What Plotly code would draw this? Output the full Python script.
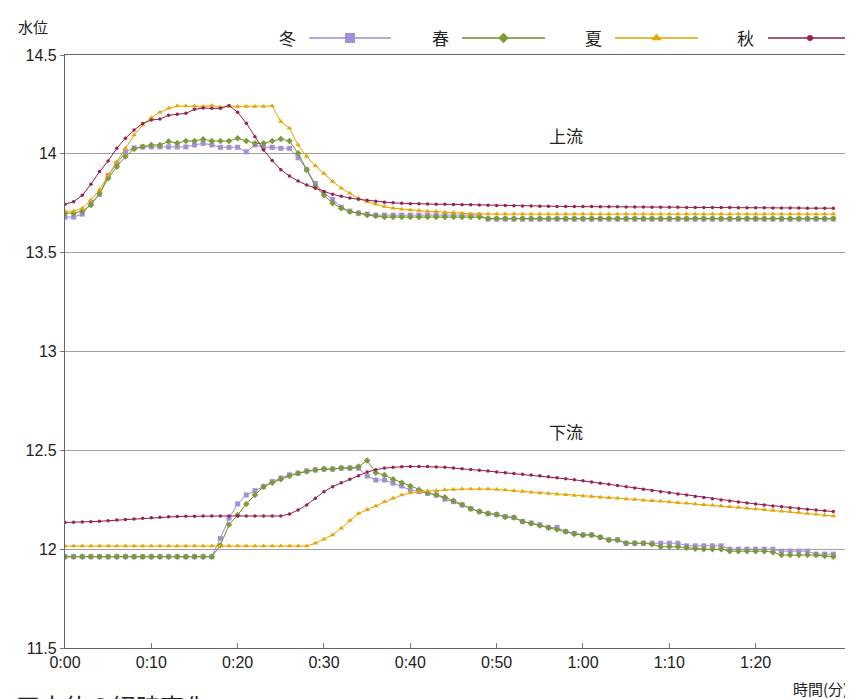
import plotly.graph_objects as go

# ---------------- data (minutes, water level) ----------------
minutes = list(range(90))
x_ticks = [0, 10, 20, 30, 40, 50, 60, 70, 80]
x_tick_labels = ["0:00", "0:10", "0:20", "0:30", "0:40", "0:50", "1:00", "1:10", "1:20"]
y_ticks = [11.5, 12, 12.5, 13, 13.5, 14, 14.5]
y_tick_labels = ["11.5", "12", "12.5", "13", "13.5", "14", "14.5"]
season_names = ["冬", "春", "夏", "秋"]

winter_up = [13.68, 13.68, 13.695, 13.75, 13.795, 13.89, 13.95, 14.01, 14.03, 14.035,
             14.035, 14.035, 14.035, 14.035, 14.035, 14.045, 14.053, 14.045, 14.033, 14.033,
             14.033, 14.01, 14.045, 14.033, 14.033, 14.028, 14.028, 13.98, 13.92, 13.85,
             13.80, 13.77, 13.73, 13.71, 13.70, 13.695, 13.69, 13.69, 13.69, 13.69,
             13.69, 13.69, 13.69, 13.69, 13.69, 13.69, 13.69, 13.69, 13.69, 13.67,
             13.67, 13.67, 13.67, 13.67, 13.67, 13.67, 13.67, 13.67, 13.67, 13.67,
             13.67, 13.67, 13.67, 13.67, 13.67, 13.67, 13.67, 13.67, 13.67, 13.67,
             13.67, 13.67, 13.67, 13.67, 13.67, 13.67, 13.67, 13.67, 13.67, 13.67,
             13.67, 13.67, 13.67, 13.67, 13.67, 13.67, 13.67, 13.67, 13.67, 13.67]

spring_up = [13.70, 13.70, 13.71, 13.74, 13.80, 13.876, 13.935, 13.986, 14.025, 14.036,
             14.045, 14.045, 14.062, 14.055, 14.065, 14.065, 14.074, 14.065, 14.065, 14.065,
             14.079, 14.065, 14.053, 14.053, 14.065, 14.075, 14.065, 14.003, 13.92, 13.835,
             13.79, 13.75, 13.725, 13.707, 13.70, 13.69, 13.685, 13.68, 13.68, 13.68,
             13.68, 13.68, 13.68, 13.68, 13.68, 13.68, 13.68, 13.68, 13.68, 13.673,
             13.673, 13.673, 13.673, 13.673, 13.673, 13.673, 13.673, 13.673, 13.673, 13.673,
             13.673, 13.673, 13.673, 13.673, 13.673, 13.673, 13.673, 13.673, 13.673, 13.673,
             13.673, 13.673, 13.673, 13.673, 13.673, 13.673, 13.673, 13.673, 13.673, 13.673,
             13.673, 13.673, 13.673, 13.673, 13.673, 13.673, 13.673, 13.673, 13.673, 13.673]

summer_up = [13.71, 13.71, 13.725, 13.767, 13.817, 13.893, 13.96, 14.028, 14.095, 14.146,
             14.183, 14.21, 14.23, 14.242, 14.242, 14.242, 14.24, 14.245, 14.236, 14.24,
             14.24, 14.24, 14.24, 14.24, 14.242, 14.163, 14.13, 14.045, 13.986, 13.94,
             13.90, 13.86, 13.826, 13.80, 13.775, 13.758, 13.745, 13.733, 13.725, 13.72,
             13.716, 13.713, 13.71, 13.708, 13.705, 13.703, 13.70, 13.696, 13.695, 13.695,
             13.695, 13.695, 13.695, 13.695, 13.695, 13.695, 13.695, 13.695, 13.695, 13.695,
             13.695, 13.695, 13.695, 13.695, 13.695, 13.695, 13.695, 13.695, 13.695, 13.695,
             13.695, 13.695, 13.695, 13.695, 13.695, 13.695, 13.695, 13.695, 13.695, 13.695,
             13.695, 13.695, 13.695, 13.695, 13.695, 13.695, 13.695, 13.695, 13.695, 13.695]

autumn_up = [13.745, 13.758, 13.79, 13.846, 13.91, 13.964, 14.028, 14.079, 14.12, 14.154,
             14.171, 14.176, 14.195, 14.20, 14.205, 14.225, 14.232, 14.23, 14.23, 14.245,
             14.21, 14.155, 14.087, 14.02, 13.966, 13.92, 13.888, 13.862, 13.842, 13.826,
             13.81, 13.795, 13.785, 13.777, 13.77, 13.765, 13.76, 13.755, 13.752, 13.75,
             13.748, 13.747, 13.746, 13.745, 13.745, 13.744, 13.743, 13.742, 13.741, 13.74,
             13.739, 13.738, 13.737, 13.736, 13.736, 13.735, 13.735, 13.734, 13.734, 13.733,
             13.733, 13.733, 13.732, 13.732, 13.732, 13.731, 13.731, 13.731, 13.73, 13.73,
             13.73, 13.73, 13.729, 13.729, 13.729, 13.728, 13.728, 13.728, 13.727, 13.727,
             13.727, 13.727, 13.726, 13.726, 13.726, 13.726, 13.725, 13.725, 13.725, 13.725]

winter_down = [11.962, 11.962, 11.962, 11.962, 11.962, 11.962, 11.962, 11.962, 11.962, 11.962,
               11.962, 11.962, 11.962, 11.962, 11.962, 11.962, 11.962, 11.962, 12.055, 12.157,
               12.229, 12.274, 12.296, 12.316, 12.342, 12.36, 12.376, 12.384, 12.396, 12.401,
               12.405, 12.405, 12.41, 12.41, 12.41, 12.37, 12.35, 12.35, 12.334, 12.32,
               12.30, 12.291, 12.282, 12.274, 12.253, 12.24, 12.224, 12.205, 12.19, 12.18,
               12.175, 12.165, 12.16, 12.14, 12.132, 12.123, 12.11, 12.11, 12.089, 12.08,
               12.072, 12.072, 12.06, 12.047, 12.047, 12.03, 12.03, 12.03, 12.03, 12.03,
               12.03, 12.03, 12.017, 12.017, 12.017, 12.017, 12.017, 12.0, 12.0, 12.0,
               12.0, 12.0, 12.0, 11.99, 11.99, 11.99, 11.99, 11.975, 11.975, 11.975]

spring_down = [11.962, 11.962, 11.962, 11.962, 11.962, 11.962, 11.962, 11.962, 11.962, 11.962,
               11.962, 11.962, 11.962, 11.962, 11.962, 11.962, 11.962, 11.962, 12.02, 12.123,
               12.173, 12.229, 12.274, 12.316, 12.336, 12.354, 12.37, 12.384, 12.393, 12.40,
               12.405, 12.405, 12.41, 12.41, 12.418, 12.448, 12.387, 12.375, 12.354, 12.336,
               12.32, 12.30, 12.286, 12.274, 12.263, 12.245, 12.225, 12.205, 12.19, 12.18,
               12.175, 12.163, 12.16, 12.14, 12.13, 12.12, 12.108, 12.10, 12.089, 12.077,
               12.072, 12.072, 12.06, 12.047, 12.047, 12.03, 12.03, 12.03, 12.025, 12.012,
               12.012, 12.012, 12.007, 12.002, 12.0, 12.0, 12.0, 11.99, 11.99, 11.99,
               11.99, 11.99, 11.985, 11.97, 11.97, 11.97, 11.97, 11.97, 11.965, 11.962]

summer_down = [12.016, 12.016, 12.016, 12.016, 12.016, 12.016, 12.016, 12.016, 12.016, 12.016,
               12.016, 12.016, 12.016, 12.016, 12.016, 12.016, 12.016, 12.016, 12.016, 12.016,
               12.016, 12.016, 12.016, 12.016, 12.016, 12.016, 12.016, 12.016, 12.016, 12.03,
               12.05, 12.072, 12.106, 12.145, 12.18, 12.20, 12.219, 12.24, 12.258, 12.274,
               12.284, 12.29, 12.294, 12.296, 12.30, 12.302, 12.304, 12.305, 12.305, 12.304,
               12.302, 12.299, 12.296, 12.292, 12.288, 12.284, 12.281, 12.278, 12.275, 12.272,
               12.269, 12.266, 12.263, 12.26, 12.257, 12.254, 12.251, 12.248, 12.245, 12.242,
               12.239, 12.235, 12.232, 12.229, 12.225, 12.222, 12.218, 12.214, 12.211, 12.207,
               12.203, 12.20, 12.196, 12.192, 12.189, 12.185, 12.181, 12.177, 12.172, 12.168]

autumn_down = [12.135, 12.136, 12.137, 12.139, 12.141, 12.144, 12.147, 12.15, 12.153, 12.156,
               12.159, 12.162, 12.164, 12.165, 12.166, 12.167, 12.168, 12.168, 12.168, 12.168,
               12.168, 12.168, 12.168, 12.168, 12.168, 12.168, 12.178, 12.198, 12.224, 12.258,
               12.291, 12.316, 12.336, 12.354, 12.372, 12.39, 12.402, 12.41, 12.414, 12.417,
               12.418, 12.418, 12.418, 12.416, 12.414, 12.411, 12.407, 12.403, 12.399, 12.395,
               12.391, 12.387, 12.383, 12.379, 12.375, 12.371, 12.366, 12.361, 12.356, 12.351,
               12.346, 12.34, 12.334, 12.328, 12.322, 12.316, 12.31, 12.303, 12.297, 12.291,
               12.285, 12.279, 12.274, 12.267, 12.261, 12.255, 12.249, 12.244, 12.239, 12.234,
               12.229, 12.224, 12.219, 12.214, 12.21, 12.206, 12.202, 12.198, 12.194, 12.19]

# ---------------- layout geometry (page pixels) ----------------
PAGE_W, PAGE_H = 853, 699
OFF = 8                       # default body margin of the html page
W, H = PAGE_W - OFF, PAGE_H - OFF
PLOT_L, PLOT_R, PLOT_T, PLOT_B = 65, 848, 20, 648   # outer box incl. legend strip
MAIN_TOP_PX = 55
ML, MR = PLOT_L - OFF, W - (PLOT_R - OFF)
MT, MB = PLOT_T - OFF, H - (PLOT_B - OFF)
PW, PH = PLOT_R - PLOT_L, PLOT_B - PLOT_T
main_top = (PLOT_B - MAIN_TOP_PX) / PH
leg_dom0 = main_top + 0.005


def px(xp):
    return (xp - PLOT_L) / PW


def py(yp):
    return (PLOT_B - yp) / PH


line_colors = ["#9d8ccb", "#6f8f2c", "#e2a400", "#8a1f4c"]
marker_colors = ["#a48fd2", "#7b9b3a", "#e6a800", "#9a2253"]
symbols = ["square", "diamond", "triangle-up", "circle"]
msizes = [5, 5, 5, 3.5]
legend_msizes = [10, 8, 9, 6]
TXT = "Liberation Sans Narrow, Arial Narrow, Liberation Sans, Arial, sans-serif"
CJK = "Noto Sans CJK JP, Noto Sans CJK SC, sans-serif"

up_series = [winter_up, spring_up, summer_up, autumn_up]
down_series = [winter_down, spring_down, summer_down, autumn_down]

fig = go.Figure()
for i, name in enumerate(season_names):
    for ys in (up_series[i], down_series[i]):
        fig.add_trace(go.Scatter(
            x=minutes, y=ys, mode="lines+markers", name=name, showlegend=False,
            line=dict(color=line_colors[i], width=1),
            marker=dict(symbol=symbols[i], size=msizes[i], color=marker_colors[i],
                        line=dict(width=0)),
            xaxis="x", yaxis="y"))

# custom legend (label on the left of the sample, as in the original)
legend_text_px = [287, 440, 593, 745]
legend_line_px = [(309, 391), (462, 545), (615, 698), (768, 852)]
legend_y_px = 38
for i, name in enumerate(season_names):
    x0, x1 = legend_line_px[i]
    fig.add_trace(go.Scatter(
        x=[x0, x1], y=[legend_y_px, legend_y_px], mode="lines", showlegend=False,
        line=dict(color=line_colors[i], width=1.3), xaxis="x2", yaxis="y2",
        hoverinfo="skip", cliponaxis=False))
    fig.add_trace(go.Scatter(
        x=[(x0 + x1) / 2], y=[legend_y_px], mode="markers", showlegend=False,
        marker=dict(symbol=symbols[i], size=legend_msizes[i], color=marker_colors[i]),
        xaxis="x2", yaxis="y2", hoverinfo="skip", cliponaxis=False))
    fig.add_annotation(text=name, xref="paper", yref="paper",
                       x=px(legend_text_px[i]), y=py(legend_y_px),
                       xanchor="center", yanchor="middle", showarrow=False,
                       font=dict(family=CJK, size=17, color="#222"))

fig.add_annotation(text="水位", xref="paper", yref="paper", x=px(33), y=py(26),
                   xanchor="center", yanchor="middle", showarrow=False,
                   font=dict(family=CJK, size=15, color="#222"))
fig.add_annotation(text="時間(分)", xref="paper", yref="paper", x=px(850), y=py(688),
                   xanchor="right", yanchor="middle", showarrow=False,
                   font=dict(family=CJK, size=15, color="#222"))
fig.add_annotation(text="■水位の経時変化", xref="paper", yref="paper",
                   x=px(14), y=py(686), xanchor="left", yanchor="top",
                   showarrow=False, font=dict(family=CJK, size=24, color="#222"))
fig.add_annotation(text="上流", xref="x", yref="y", x=58, y=14.095, showarrow=False,
                   font=dict(family=CJK, size=17, color="#222"))
fig.add_annotation(text="下流", xref="x", yref="y", x=58, y=12.593, showarrow=False,
                   font=dict(family=CJK, size=17, color="#222"))

fig.update_layout(
    width=W, height=H,
    margin=dict(l=ML, r=MR, t=MT, b=MB, pad=0, autoexpand=False),
    paper_bgcolor="white", plot_bgcolor="white",
    showlegend=False,
    font=dict(family=TXT, size=16, color="#222"),
    xaxis=dict(range=[0, 90.7], domain=[0, 1], tickvals=x_ticks, ticktext=x_tick_labels,
               ticks="inside", ticklen=5, tickcolor="#777", showgrid=False, zeroline=False,
               showline=True, linecolor="#666", linewidth=1.2, mirror=True,
               tickfont=dict(family=TXT, size=16, color="#222"), anchor="y"),
    yaxis=dict(range=[11.5, 14.5], domain=[0, main_top], tickvals=y_ticks,
               ticktext=y_tick_labels, ticks="outside", ticklen=4, tickcolor="#777",
               showgrid=True, gridcolor="#a0a0a0", gridwidth=1, zeroline=False,
               showline=True, linecolor="#666", linewidth=1.2, mirror=True,
               tickfont=dict(family=TXT, size=16, color="#222"), anchor="x"),
    xaxis2=dict(range=[PLOT_L, PLOT_R], domain=[0, 1], visible=False, anchor="y2",
                fixedrange=True),
    yaxis2=dict(range=[PLOT_B - PH * leg_dom0, PLOT_T], domain=[leg_dom0, 1],
                visible=False, anchor="x2", fixedrange=True),
)

fig.write_html("out.html")
